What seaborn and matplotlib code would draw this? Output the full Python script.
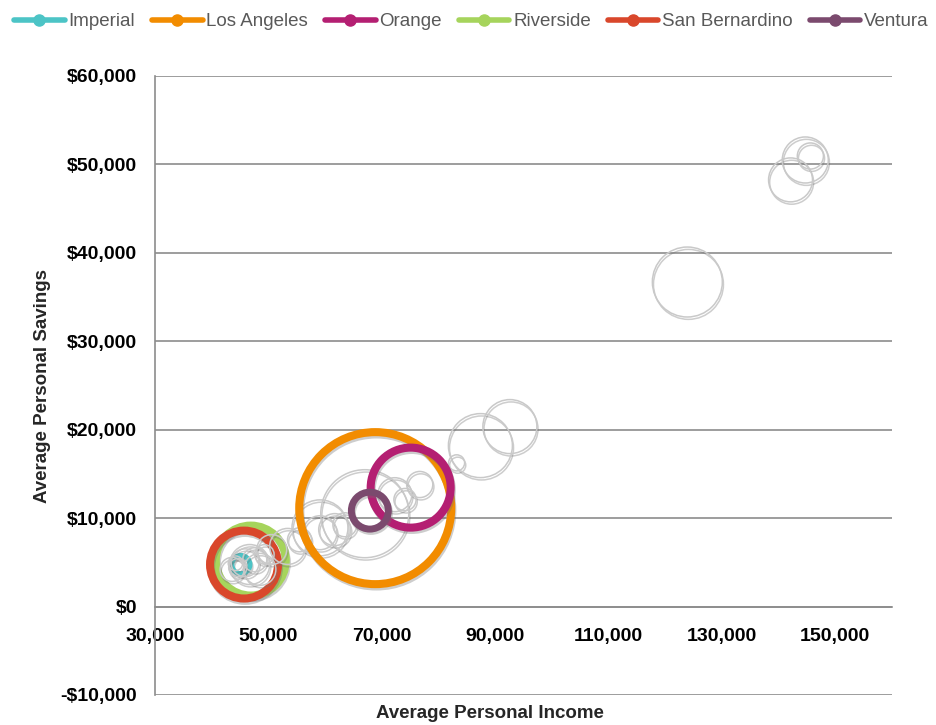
"""
Bubble chart - Average Personal Savings vs Average Personal Income by county
"""
import matplotlib
matplotlib.use('Agg')
import matplotlib.pyplot as plt
import matplotlib.patheffects as pe
from matplotlib.lines import Line2D
from matplotlib.ticker import FuncFormatter
import pandas as pd
import seaborn as sns

# highlighted counties (draw order: bottom group first)
hl_county = ['Imperial', 'Riverside', 'San Bernardino', 'Los Angeles', 'Orange', 'Ventura']
hl_income = [45150, 46900, 45700, 68850, 75100, 67900]
hl_savings = [4750, 5200, 4750, 11130, 13450, 10850]
hl_pop = [140, 2080, 1960, 9820, 2720, 580]
hl_color = ['#4cc4c6', '#a6d45c', '#d9472b', '#f28c00', '#b41f72', '#7b4a6e']

# the rest of the state, drawn as plain grey rings
other_income = [144700, 145600, 142100, 123900, 87400, 92600, 83200, 67000,
                72300, 76700, 74100, 59100, 59100, 61700, 53400, 50600,
                46700, 45900, 44600, 47600, 43600, 48500, 55500, 63500,
                49300, 44200]
other_savings = [50500, 50950, 48250, 36700, 18200, 20350, 16250, 10500,
                 12650, 13800, 12100, 8900, 8350, 8700, 6800, 6450,
                 4750, 4950, 4400, 5300, 4200, 4200, 7550, 9250,
                 5900, 4900]
other_pop = [900, 290, 820, 2080, 1740, 1240, 110, 3290,
             490, 290, 210, 1330, 490, 435, 550, 380,
             680, 330, 140, 245, 245, 435, 245, 245,
             160, 90]

x_ticks = [30000, 50000, 70000, 90000, 110000, 130000, 150000]
y_ticks = [-10000, 0, 10000, 20000, 30000, 40000, 50000, 60000]

sns.set_style('white')
plt.rcParams['font.family'] = ['Liberation Sans', 'DejaVu Sans']

hl = pd.DataFrame({'county': hl_county, 'income': hl_income,
                   'savings': hl_savings, 'pop': hl_pop, 'color': hl_color})
other = pd.DataFrame({'income': other_income, 'savings': other_savings,
                      'pop': other_pop})

fig = plt.figure(figsize=(9.37, 7.25), dpi=100)
ax = fig.add_axes([0.1654, 0.0414, 0.7866, 0.8538])

size_kw = dict(size='pop', sizes=(0, 12200), size_norm=(0, 10000), legend=False)
shadow = [pe.SimpleLineShadow(offset=(0.8, -1.7), shadow_color='#707070', alpha=0.35),
          pe.Normal()]
ring_width = {'Imperial': 3.6, 'Riverside': 5.8, 'San Bernardino': 5.8,
              'Los Angeles': 5.8, 'Orange': 5.8, 'Ventura': 5.0}


def draw_ring(data, color, lw):
    sns.scatterplot(data=data, x='income', y='savings', ax=ax,
                    color=color, facecolor='none', edgecolor=color,
                    linewidth=lw, zorder=3, **size_kw)
    ax.collections[-1].set_path_effects(shadow)


for _, row in hl.iloc[:3].iterrows():
    draw_ring(hl[hl.county == row.county], row.color, ring_width[row.county])

draw_ring(other, '#c9c9c9', 1.1)

for _, row in hl.iloc[3:].iterrows():
    draw_ring(hl[hl.county == row.county], row.color, ring_width[row.county])

# axes
ax.set_xlim(30000, 160000)
ax.set_ylim(-10000, 60000)
ax.set_xticks(x_ticks)
ax.set_yticks(y_ticks)
ax.xaxis.set_major_formatter(FuncFormatter(lambda v, p: f'{int(v):,}'))
ax.yaxis.set_major_formatter(FuncFormatter(
    lambda v, p: f'-${abs(int(v)):,}' if v < 0 else f'${int(v):,}'))
ax.set_xlabel('')
ax.set_ylabel('')

ax.yaxis.grid(True, color='#8c8c8c', linewidth=1.2)
ax.xaxis.grid(False)
ax.set_axisbelow(True)
for side in ['top', 'right']:
    ax.spines[side].set_visible(False)
ax.spines['left'].set_color('#8c8c8c')
ax.spines['left'].set_linewidth(1.2)
ax.spines['bottom'].set_position(('data', 0))
ax.spines['bottom'].set_color('#8c8c8c')
ax.spines['bottom'].set_linewidth(1.2)

ax.tick_params(axis='x', direction='out', length=4.5, width=1.2, color='#8c8c8c',
               pad=11, labelsize=14, labelcolor='black')
ax.tick_params(axis='y', length=0, pad=13, labelsize=14, labelcolor='black')
for lab in ax.get_xticklabels() + ax.get_yticklabels():
    lab.set_fontweight('bold')

fig.text(0.5225, 1 - 713 / 725, 'Average Personal Income', ha='center', va='center',
         fontsize=13.5, fontweight='bold')
fig.text(43 / 937, 1 - 386 / 725, 'Average Personal Savings', ha='center', va='center',
         rotation=90, fontsize=13.5, fontweight='bold')

# legend across the top
order = ['Imperial', 'Los Angeles', 'Orange', 'Riverside', 'San Bernardino', 'Ventura']
colors = dict(zip(hl_county, hl_color))
handles = [Line2D([], [], color=colors[c], lw=4, marker='o', markersize=8,
                  solid_capstyle='round') for c in order]
leg = fig.legend(handles, order, loc='upper left', bbox_to_anchor=(0.007, 0.992),
                 ncol=6, frameon=False, fontsize=13.5, handlelength=2.7,
                 handletextpad=0.2, columnspacing=0.9, borderaxespad=0)
for t in leg.get_texts():
    t.set_color('#595959')

fig.savefig('out.png', dpi=100, facecolor='white')
